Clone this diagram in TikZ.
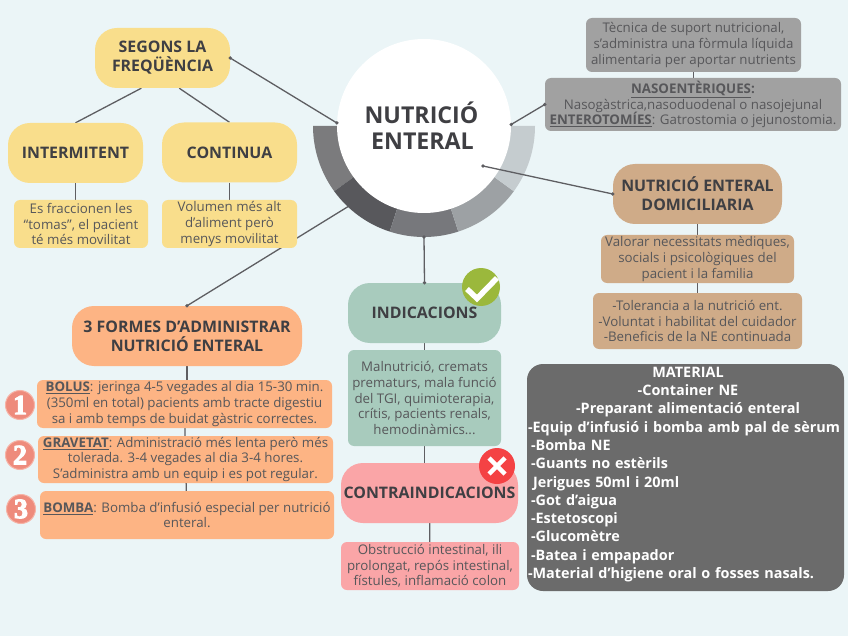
\documentclass[tikz,border=0pt]{standalone}
\usepackage{fontspec}
\setmainfont{Open Sans}
\newfontfamily\numfont[FakeBold=3.5]{Liberation Serif Bold}
\usetikzlibrary{backgrounds}
\definecolor{bgc}{HTML}{EBF5F7}
\definecolor{ink}{HTML}{3F3F43}
\definecolor{soft}{HTML}{57575A}
\definecolor{linec}{HTML}{5E5E62}
\definecolor{yel}{HTML}{F9DE8C}
\definecolor{pea}{HTML}{FDB484}
\definecolor{gre}{HTML}{A8CBBD}
\definecolor{pin}{HTML}{FAA5A7}
\definecolor{tan}{HTML}{CFAB88}
\definecolor{gra}{HTML}{A1A1A1}
\definecolor{mat}{HTML}{6B6B6B}
\definecolor{sal}{HTML}{EE8B7C}
\definecolor{salb}{HTML}{F6B3A6}
\definecolor{okg}{HTML}{9BB83C}
\definecolor{kor}{HTML}{F44244}
\tikzset{
 x=1pt,y=-1pt,
 big/.style={rounded corners=22pt,inner sep=0pt,align=center,text=ink,font=\fontsize{15.9}{19}\selectfont\bfseries},
 small/.style={rounded corners=6pt,inner sep=0pt,align=center,text=soft,font=\fontsize{13.3}{15.6}\selectfont},
 link/.style={draw=linec,line width=1.3pt},
 dotc/.style={fill=linec},
 badge/.style={circle,fill=sal,draw=salb,line width=1pt,minimum size=29pt,inner sep=0pt,text=white,font=\fontsize{28}{28}\selectfont\numfont},
}
\begin{document}
\begin{tikzpicture}
\useasboundingbox (0,0) rectangle (848,636);
\begin{scope}[on background layer]
\fill[bgc] (0,0) rectangle (848,636);
\end{scope}
% ring
\foreach \a/\b/\c in {180/216/7B7B7D,216/252/58585C,252/288/77787C,288/324/9DA1A4,324/360/C5CCCF}{
 \definecolor{tmp}{HTML}{\c}
 \fill[tmp] ({424+111*cos(\a)},{126-111*sin(\a)}) arc[start angle=-\a,end angle=-\b,radius=111] -- ({424+60*cos(\b)},{126-60*sin(\b)}) -- ({424+60*cos(\a)},{126-60*sin(\a)}) -- cycle;
}
\node[circle,fill=white,minimum size=174pt,inner sep=0pt,align=center,text=ink,font=\fontsize{23.2}{26}\selectfont\bfseries] (root) at (424,126) {NUTRICIÓ\hspace*{5pt}\\ENTERAL\hspace*{3pt}};
\coordinate (ringbot) at (424,237);
\coordinate (ringleft) at (349,206);
\coordinate (innerdot) at (483,166);
\node[big,fill=yel,minimum width=135pt,minimum height=60pt] (freq) at (162.5,58) {SEGONS LA\\FREQÜÈNCIA};
\node[big,fill=yel,minimum width=135pt,minimum height=60pt] (inter) at (75.5,153) {INTERMITENT};
\node[big,fill=yel,minimum width=135pt,minimum height=60pt] (cont) at (229.5,152.5) {CONTINUA};
\node[small,fill=yel,minimum width=134pt,minimum height=48pt] (interd) at (81,224) {Es fraccionen les\\“tomas”, el pacient\\té més movilitat};
\node[small,fill=yel,minimum width=135pt,minimum height=48pt] (contd) at (229.5,224) {Volumen més alt\\d’aliment però\\menys movilitat};
\node[small,fill=gra,minimum width=215pt,minimum height=54pt] (tec) at (693.5,45) {Tècnica de suport nutricional,\\s’administra una fòrmula líquida\\alimentaria per aportar nutrients};
\node[small,fill=gra,minimum width=296pt,minimum height=53pt] (naso) at (693,104.5) {\textbf{\underline{NASOENTÈRIQUES}:}\\Nasogàstrica,nasoduodenal o nasojejunal\\\textbf{\underline{ENTEROTOMÍES}}: Gatrostomia o jejunostomia.};
\node[big,fill=tan,minimum width=169pt,minimum height=60pt] (dom) at (697.5,194) {NUTRICIÓ ENTERAL\\DOMICILIARIA};
\node[small,fill=tan,minimum width=193pt,minimum height=48pt] (val) at (697.5,259) {Valorar necessitats mèdiques,\\socials i psicològiques del\\pacient i la familia};
\node[small,fill=tan,minimum width=209pt,minimum height=56pt] (tol) at (697.5,321) {-Tolerancia a la nutrició ent.\\-Voluntat i habilitat del cuidador\\-Beneficis de la NE continuada};
\node[big,fill=pea,minimum width=230pt,minimum height=60pt] (form) at (187,336) {3 FORMES D’ADMINISTRAR\\NUTRICIÓ ENTERAL};
\node[small,fill=pea,minimum width=295pt,minimum height=48pt] (bol) at (184.5,404) {\textbf{\underline{BOLUS}}: jeringa 4-5 vegades al dia 15-30 min.\\(350ml en total) pacients amb tracte digestiu\\sa i amb temps de buidat gàstric correctes.};
\node[small,fill=pea,minimum width=295pt,minimum height=47pt] (grav) at (185.5,459.5) {\textbf{\underline{GRAVETAT}}: Administració més lenta però més\\tolerada. 3-4 vegades al dia 3-4 hores.\\S’administra amb un equip i es pot regular.};
\node[small,fill=pea,minimum width=294pt,minimum height=48pt] (bom) at (187,515) {\textbf{\underline{BOMBA}}: Bomba d’infusió especial per nutrició\\enteral.};
\node[big,fill=gre,minimum width=153pt,minimum height=60pt] (ind) at (424.5,313) {INDICACIONS};
\node[small,fill=gre,minimum width=153pt,minimum height=96pt] (indd) at (424.5,398) {Malnutrició, cremats\\prematurs, mala funció\\del TGI,  quimioterapia,\\crítis, pacients renals,\\hemodinàmics...};
\node[big,fill=pin,minimum width=177pt,minimum height=60pt] (con) at (429.5,493) {CONTRAINDICACIONS};
\node[small,fill=pin,minimum width=178pt,minimum height=48pt] (cond) at (430,566) {Obstrucció intestinal, ili\\prolongat, repós intestinal,\\fístules, inflamació colon};
\node[rounded corners=16pt,fill=mat,minimum width=317pt,minimum height=227pt,inner sep=0pt,text width=309pt,align=left,text=white,font=\fontsize{14.4}{18.27}\selectfont\bfseries] (mate) at (685.5,477.5) {\makebox[314pt][c]{MATERIAL}\\\makebox[314pt][c]{-Container NE}\\\makebox[314pt][c]{-Preparant alimentació enteral}\\\hspace*{-3pt}\makebox[305pt][l]{-Equip d’infusió i bomba amb pal de sèrum}\\-Bomba NE\\-Guants no estèrils\\\hspace*{2pt}Jerigues 50ml i 20ml\\-Got d’aigua\\-Estetoscopi\\-Glucomètre\\-Batea i empapador\\\hspace*{-3pt}\makebox[305pt][l]{-Material d’higiene oral o fosses nasals.}\par\vspace*{6pt}};
% badges
\node[badge] (b1) at (20,405) {1};
\node[badge] (b2) at (20,455) {2};
\node[badge] (b3) at (21,509) {3};
\node[circle,fill=okg,minimum size=38pt,inner sep=0pt] (ok) at (481,287) {};
\draw[white,line width=5.5pt] (467,289) -- (477,298.5) -- (497,278);
\node[circle,fill=kor,minimum size=36pt,inner sep=0pt] (ko) at (497,466) {};
\draw[white,line width=4.5pt] (489,458) -- (505,474) (505,458) -- (489,474);
% connectors
\begin{scope}[on background layer]
\draw[link] (freq.235) -- (inter.north);
\draw[link] (freq.299) -- (cont.north);
\draw[link] (inter.south) -- (inter.south|-interd.north);
\draw[link] (cont) -- (contd);
\draw[link] (tec) -- (tec|-naso.north);
\draw[link] (dom) -- (dom|-val.north);
\draw[link] (val) -- (tol);
\draw[link] (form) -- (form|-bol.north);
\draw[link] (bol) -- (grav);
\draw[link] (grav) -- (bom);
\draw[link] (ind) -- (indd);
\draw[link] (indd) -- (indd|-con.north);
\draw[link] (con) -- (cond);
\draw[link] (ringleft) -- (form.north);
\end{scope}
\draw[link] (freq.east) -- (root.178);
\draw[link] (root.1) -- (naso.west);
\draw[link] (innerdot) -- (dom.west);
\draw[link] (ringbot) -- (ind.north);
\foreach \p in {freq.east,root.178,root.1,naso.west,innerdot,dom.west,ringbot,ind.north,form.north}
 \fill[dotc] (\p) circle[radius=1.9];
\end{tikzpicture}
\end{document}
